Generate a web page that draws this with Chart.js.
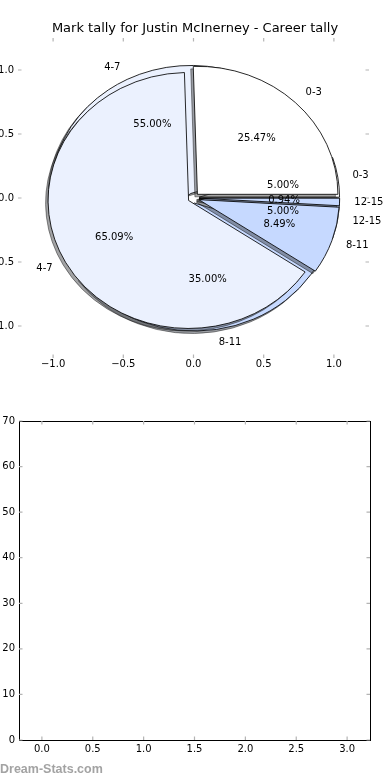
<!DOCTYPE html>
<html>
<head>
<meta charset="utf-8">
<script src="https://cdn.jsdelivr.net/npm/chart.js@4.4.0/dist/chart.umd.min.js"></script>
<style>
  html, body { margin: 0; padding: 0; background: #fff; overflow: hidden; }
  body { width: 390px; height: 780px; position: relative; }
  .box { position: absolute; }
  #credit { position: absolute; left: 0; top: 762px; font: bold 12.5px "Liberation Sans", Arial, sans-serif; color: #a3a3a3; }
</style>
</head>
<body>
<div class="box" style="left:-22px;top:0;width:434px;height:380px"><canvas id="pieAxes"></canvas></div>
<div class="box" style="left:0;top:0;width:390px;height:400px"><canvas id="pieBack"></canvas></div>
<div class="box" style="left:0;top:0;width:390px;height:400px"><canvas id="pieFront"></canvas></div>
<div class="box" style="left:-22px;top:400px;width:434px;height:360px"><canvas id="emptyAxes"></canvas></div>
<div id="credit">Dream-Stats.com</div>
<script>
const markRanges = ['0-3', '4-7', '8-11', '12-15'];
const careerTally = [27, 69, 9, 1];
const recentTally = [1, 11, 7, 1];
const pieTicks = [-1, -0.5, 0, 0.5, 1];
const emptyXTicks = [0, 0.5, 1, 1.5, 2, 2.5, 3];
const emptyYTicks = [0, 10, 20, 30, 40, 50, 60, 70];

const sliceColours = ['#ffffff', '#ebf1fe', '#c6d9ff', '#c6d9ff'];
const EXPLODE = 0.04;
const RADIUS = 128;
const SX = 140.5 / 128;   // the pie is drawn as an ellipse, like the original

Chart.defaults.font.family = '"DejaVu Sans", sans-serif';
Chart.defaults.font.size = 10;
Chart.defaults.color = '#000';

function minus(s) { return s.replace('-', '\u2212'); }

// inward grey tick marks (and optional black frame)
const innerTicks = {
    id: 'innerTicks',
    afterDraw(chart, args, opts) {
        const {ctx, chartArea: a, scales: {x, y}} = chart;
        ctx.save();
        if (opts.frame) {
            ctx.strokeStyle = '#000';
            ctx.lineWidth = 1;
            ctx.strokeRect(Math.round(a.left) + 0.5, Math.round(a.top) + 0.5, Math.round(a.right - a.left), Math.round(a.bottom - a.top));
        }
        ctx.strokeStyle = '#b4b4b4';
        ctx.lineWidth = 1.2;
        ctx.beginPath();
        x.ticks.forEach(t => {
            const px = x.getPixelForValue(t.value);
            ctx.moveTo(px, a.top); ctx.lineTo(px, a.top + 3.5);
            ctx.moveTo(px, a.bottom); ctx.lineTo(px, a.bottom - 3.5);
        });
        y.ticks.forEach(t => {
            const py = y.getPixelForValue(t.value);
            ctx.moveTo(a.left, py); ctx.lineTo(a.left + 3.5, py);
            ctx.moveTo(a.right, py); ctx.lineTo(a.right - 3.5, py);
        });
        ctx.stroke();
        ctx.restore();
    }
};

// draw the arcs exploded, stretched and with a shadow
const explodePlugin = {
    id: 'explode',
    beforeDatasetsDraw(chart) {
        const ctx = chart.ctx;
        const arcs = chart.getDatasetMeta(0).data;
        const pass = shadow => arcs.forEach(arc => {
            const mid = (arc.startAngle + arc.endAngle) / 2;
            const d = EXPLODE * arc.outerRadius;
            ctx.save();
            if (shadow) { ctx.filter = 'brightness(0.3)'; ctx.globalAlpha = 0.5; }
            ctx.translate(arc.x, arc.y);
            ctx.scale(SX, 1);
            ctx.translate(-arc.x, -arc.y);
            ctx.translate(Math.cos(mid) * d + (shadow ? -2.5 / SX : 0), Math.sin(mid) * d + (shadow ? 2.5 : 0));
            arc.draw(ctx);
            ctx.restore();
        });
        pass(true);
        pass(false);
        return false;
    }
};

let backChart = null;

// labels of both pies go on top of every wedge
const sliceLabels = {
    id: 'sliceLabels',
    afterDraw(chart) {
        const ctx = chart.ctx;
        ctx.save();
        ctx.font = '10px "DejaVu Sans"';
        ctx.fillStyle = '#000';
        ctx.textBaseline = 'middle';
        [backChart, chart].forEach(c => {
            const values = c.data.datasets[0].data;
            const total = values.reduce((s, v) => s + v, 0);
            c.getDatasetMeta(0).data.forEach((arc, i) => {
                const mid = (arc.startAngle + arc.endAngle) / 2;
                const d = 0.045 * arc.outerRadius;
                const at = k => [arc.x + SX * Math.cos(mid) * (d + k * arc.outerRadius),
                                 arc.y + Math.sin(mid) * (d + k * arc.outerRadius)];
                const [lx, ly] = at(1.1);
                ctx.textAlign = Math.cos(mid) > 0 ? 'left' : 'right';
                ctx.fillText(c.data.labels[i], lx, ly);
                const [px, py] = at(0.6);
                ctx.textAlign = 'center';
                ctx.fillText((values[i] / total * 100).toFixed(2) + '%', px, py);
            });
        });
        ctx.restore();
    }
};

function pieConfig(values, extraPlugins) {
    return {
        type: 'pie',
        data: {
            labels: markRanges.slice().reverse(),
            datasets: [{
                data: values.slice().reverse(),
                backgroundColor: sliceColours.slice().reverse(),
                borderColor: '#000',
                borderWidth: 0.8
            }]
        },
        options: {
            responsive: true,
            maintainAspectRatio: false,
            animation: false,
            events: [],
            rotation: 90,
            radius: RADIUS,
            layout: { padding: { right: 3, bottom: 4 } },
            plugins: { legend: { display: false }, tooltip: { enabled: false } }
        },
        plugins: [explodePlugin].concat(extraPlugins)
    };
}

function axisTicks(values, fmt, extra) {
    return Object.assign({
        afterBuildTicks: ax => { ax.ticks = values.map(v => ({ value: v })); },
        grid: { display: false, drawTicks: false },
        border: { display: false },
        ticks: { maxRotation: 0, autoSkip: false, callback: fmt }
    }, extra);
}

// an invisible right-hand axis keeps the plot area where matplotlib had it
function spacer(width) {
    return {
        position: 'right', min: 0, max: 1,
        grid: { display: false, drawTicks: false },
        border: { display: false },
        ticks: { display: false },
        afterFit: ax => { ax.width = width; }
    };
}

// axes behind the pies
new Chart(document.getElementById('pieAxes'), {
    type: 'scatter',
    data: { datasets: [{ data: [] }] },
    options: {
        responsive: true,
        maintainAspectRatio: false,
        animation: false,
        events: [],
        plugins: {
            legend: { display: false },
            tooltip: { enabled: false },
            title: {
                display: true,
                text: 'Mark tally for Justin McInerney - Career tally',
                color: '#000',
                font: { size: 13, weight: 'normal' },
                padding: { top: 21, bottom: 1.4 }
            }
        },
        scales: {
            x: axisTicks(pieTicks, v => minus(v.toFixed(1)), { min: -1.25, max: 1.25, ticks: { maxRotation: 0, padding: 0, callback: v => minus(v.toFixed(1)) }, afterFit: ax => { ax.height = 22; } }),
            y: axisTicks(pieTicks, v => minus(v.toFixed(1)), { min: -1.25, max: 1.25, ticks: { padding: 4, callback: v => minus(v.toFixed(1)) }, afterFit: ax => { ax.width = 40; } }),
            y2: spacer(43)
        }
    },
    plugins: [innerTicks]
});

backChart = new Chart(document.getElementById('pieBack'), pieConfig(recentTally, []));
new Chart(document.getElementById('pieFront'), pieConfig(careerTally, [sliceLabels]));

// the empty second axes
new Chart(document.getElementById('emptyAxes'), {
    type: 'scatter',
    data: { datasets: [{ data: [] }] },
    options: {
        responsive: true,
        maintainAspectRatio: false,
        animation: false,
        events: [],
        layout: { padding: { top: 21 } },
        plugins: { legend: { display: false }, tooltip: { enabled: false }, innerTicks: { frame: true } },
        scales: {
            x: axisTicks(emptyXTicks, v => v.toFixed(1), { min: -0.225, max: 3.225, ticks: { maxRotation: 0, padding: 3, callback: v => v.toFixed(1) }, afterFit: ax => { ax.height = 20; } }),
            y: axisTicks(emptyYTicks, v => String(v), { min: 0, max: 70, ticks: { padding: 4, callback: v => String(v) }, afterFit: ax => { ax.width = 41; } }),
            y2: spacer(42)
        }
    },
    plugins: [innerTicks]
});
</script>
</body>
</html>
